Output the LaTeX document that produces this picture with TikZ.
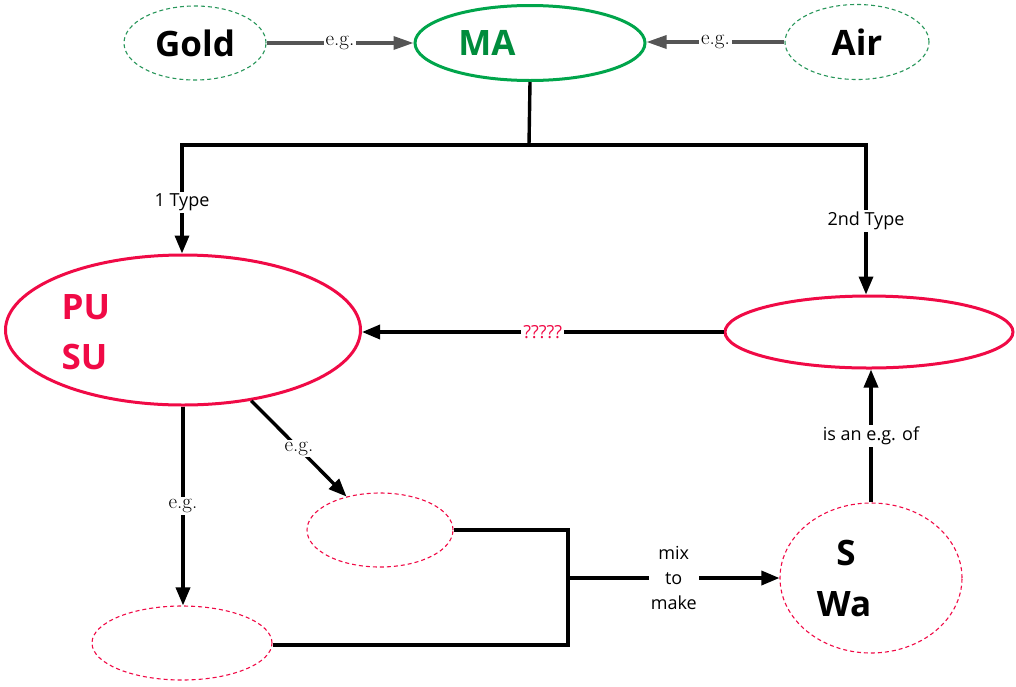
\documentclass[tikz,border=0pt]{standalone}
\usepackage{fontspec}
\newfontfamily\osans{Open Sans}
\usetikzlibrary{shapes.geometric,arrows.meta}
\definecolor{cgreen}{RGB}{0,165,75}
\definecolor{cgreent}{RGB}{0,140,60}
\definecolor{cdgreen}{RGB}{40,150,90}
\definecolor{cred}{RGB}{240,10,70}
\definecolor{cgray}{RGB}{85,85,85}
\tikzset{
  ov/.style={ellipse, inner sep=0pt},
  gdash/.style={ov, draw=cdgreen, line width=1.1pt, dash pattern=on 4pt off 3pt},
  rdash/.style={ov, draw=cred, line width=1.1pt, dash pattern=on 4pt off 3pt},
  rsolid/.style={ov, draw=cred, line width=3pt},
  big/.style={font=\osans\bfseries\fontsize{35}{40}\selectfont},
  lbl/.style={fill=white, inner sep=2pt, font=\osans\fontsize{18}{25}\selectfont},
  slbl/.style={fill=white, inner sep=2pt, font=\fontsize{21}{22}\selectfont},
  blk/.style={draw=black, line width=3.4pt},
  arr/.style={-{Triangle[length=18pt,width=14pt]}},
  garr/.style={draw=cgray, line width=3.3pt, -{Triangle[length=20pt,width=13pt]}},
}
\begin{document}
\begin{tikzpicture}[x=1pt,y=-1pt]
\useasboundingbox (0,0) rectangle (1016,686);
% top row
\node[gdash, minimum width=142pt, minimum height=74pt, big] (gold) at (195,43) {Gold};
\node[ov, draw=cgreen, line width=3pt, minimum width=230pt, minimum height=75pt] (ma) at (530,43) {};
\node[big, text=cgreent] (mat) at (487,43) {MA};
\node[gdash, minimum width=144pt, minimum height=75pt, big] (air) at (857,42) {Air};
\draw[garr] (gold.east) -- node[slbl]{e.g.} (ma.west |- gold.east);
\draw[garr] (air.west) -- node[slbl]{e.g.} (ma.east |- air.west);
% middle
\node[rsolid, minimum width=355pt, minimum height=150pt] (pu) at (183,330) {};
\node[big, text=cred, anchor=west] (put) at (58,307) {PU};
\node[big, text=cred, anchor=west] (sut) at (58,357) {SU};
\node[rsolid, minimum width=288pt, minimum height=72pt] (rt) at (869,332) {};
% bottom
\node[rdash, minimum width=146pt, minimum height=74pt] (e1) at (380,530) {};
\node[rdash, minimum width=180pt, minimum height=74pt] (e2) at (182,643) {};
\node[rdash, minimum width=182pt, minimum height=150pt] (sw) at (871,578) {};
\node[big] (st) at (846,553) {S};
\node[big] (wat) at (844,604) {Wa};
% tree from MA
\coordinate (j1) at (529,145);
\coordinate (jl) at (182,145);
\coordinate (jr) at (866,145);
\draw[blk] (ma.south) -- (j1);
\draw[blk, line cap=rect] (jl) -- (jr);
\draw[blk, arr] (jl) -- node[lbl, pos=0.53]{1 Type} (jl |- pu.north);
\draw[blk, arr] (jr) -- node[lbl, pos=0.51]{2nd Type} (jr |- rt.north);
% ?????
\draw[blk, arr] (rt.west) -- node[lbl, text=cred]{?????} (pu.east |- rt.west);
% e.g. arrows
\draw[blk, arr] (pu.-46) -- node[slbl]{e.g.} (e1.135);
\draw[blk, arr] (pu.south) -- node[slbl, pos=0.5]{e.g.} (pu.south |- e2.north);
% mix
\coordinate (mb) at (568,645);
\coordinate (mm) at (568,578);
\draw[blk] (e1.east) -| (mb) -- (e2.east |- mb);
\draw[blk, arr] (mm) -- node[lbl, align=center]{mix\\to\\make} (sw.west);
% is an e.g. of
\draw[blk, arr] (sw.north) -- node[lbl]{is an e.g. of} (sw.north |- rt.south);
\end{tikzpicture}
\end{document}
